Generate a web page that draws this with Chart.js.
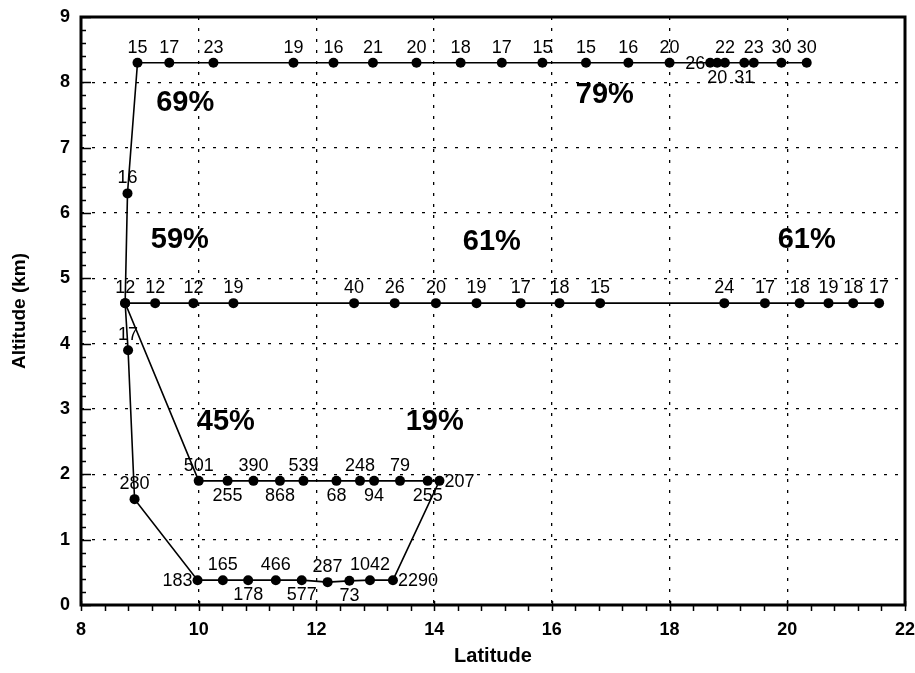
<!DOCTYPE html>
<html>
<head>
<meta charset="utf-8">
<script src="https://cdn.jsdelivr.net/npm/chart.js@4/dist/chart.umd.min.js"></script>
<style>
  html, body { margin: 0; padding: 0; background: #fff; }
  #wrap { width: 915px; height: 673px; }
</style>
</head>
<body>
<div id="wrap"><canvas id="chart" width="915" height="673"></canvas></div>
<script>
// flight track, in the order it is drawn
const lat = [
  20.33, 19.90, 19.43, 19.27, 18.94, 18.81, 18.69, 18.00, 17.30, 16.58,
  15.84, 15.15, 14.45, 13.70, 12.96, 12.29, 11.61, 10.25, 9.50, 8.96,
  8.79, 8.75, 8.80, 8.91,
  9.98, 10.41, 10.84, 11.31, 11.75, 12.19, 12.56, 12.91, 13.30,
  14.09, 13.89, 13.42, 12.98, 12.74, 12.34, 11.78, 11.38, 10.93, 10.49, 10.00,
  8.75,
  9.26, 9.91, 10.59, 12.64, 13.33, 14.03, 14.72, 15.47, 16.13, 16.82,
  18.93, 19.62, 20.21, 20.70, 21.12, 21.56
];
const alt = [
  8.30, 8.30, 8.30, 8.30, 8.30, 8.30, 8.30, 8.30, 8.30, 8.30,
  8.30, 8.30, 8.30, 8.30, 8.30, 8.30, 8.30, 8.30, 8.30, 8.30,
  6.30, 4.62, 3.90, 1.62,
  0.38, 0.38, 0.38, 0.38, 0.38, 0.35, 0.37, 0.38, 0.38,
  1.90, 1.90, 1.90, 1.90, 1.90, 1.90, 1.90, 1.90, 1.90, 1.90, 1.90,
  4.62,
  4.62, 4.62, 4.62, 4.62, 4.62, 4.62, 4.62, 4.62, 4.62, 4.62,
  4.62, 4.62, 4.62, 4.62, 4.62, 4.62
];
const counts = [
  '30', '30', '23', '31', '22', '20', '26', '20', '16', '15',
  '15', '17', '18', '20', '21', '16', '19', '23', '17', '15',
  '16', '12', '17', '280',
  '183', '165', '178', '466', '577', '287', '73', '1042', '2290',
  '207', '255', '79', '94', '248', '68', '539', '868', '390', '255', '501',
  '',
  '12', '12', '19', '40', '26', '20', '19', '17', '18', '15',
  '24', '17', '18', '19', '18', '17'
];
// where each count sits: a=above b=below l=left r=right
const countSide = [
  'a', 'a', 'a', 'b', 'a', 'b', 'l', 'a', 'a', 'a',
  'a', 'a', 'a', 'a', 'a', 'a', 'a', 'a', 'a', 'a',
  'a', 'a', 'a', 'a',
  'l', 'a', 'b', 'a', 'b', 'a', 'b', 'a', 'r',
  'r', 'b', 'a', 'b', 'a', 'b', 'a', 'b', 'a', 'b', 'a',
  '',
  'a', 'a', 'a', 'a', 'a', 'a', 'a', 'a', 'a', 'a',
  'a', 'a', 'a', 'a', 'a', 'a'
];

const pctText = ['69%', '79%', '59%', '61%', '61%', '45%', '19%'];
const pctLat = [9.77, 16.90, 9.68, 14.98, 20.33, 10.46, 14.01];
const pctAlt = [7.69, 7.81, 5.59, 5.56, 5.59, 2.80, 2.80];

const points = lat.map((x, i) => ({ x: x, y: alt[i] }));

const FONT = "'Liberation Sans', Arial, Helvetica, sans-serif";

// frame, minor ticks, point counts and the percentages
const decorations = {
  id: 'decorations',
  beforeDatasetsDraw(chart) {
    const { ctx, chartArea: a, scales: { x, y } } = chart;
    ctx.save();
    ctx.strokeStyle = '#000';
    ctx.lineWidth = 1.5;
    ctx.beginPath();
    // y ticks point inward
    for (let v = 0; v <= 9.001; v += 0.2) {
      const py = Math.round(y.getPixelForValue(v)) + 0.5;
      const major = Math.abs(v - Math.round(v)) < 0.01;
      ctx.moveTo(a.left, py);
      ctx.lineTo(a.left + (major ? 10 : 5), py);
    }
    // x ticks point down
    for (let v = 8; v <= 22.001; v += 0.4) {
      const px = Math.round(x.getPixelForValue(v)) + 0.5;
      const major = Math.abs(v / 2 - Math.round(v / 2)) < 0.01;
      ctx.moveTo(px, a.bottom + (major ? -4 : 0));
      ctx.lineTo(px, a.bottom + 6);
    }
    ctx.stroke();
    ctx.lineWidth = 3;
    ctx.strokeRect(a.left, a.top, a.right - a.left, a.bottom - a.top);
    ctx.restore();
  },
  afterDatasetsDraw(chart) {
    const { ctx, scales: { x, y } } = chart;
    const meta = chart.getDatasetMeta(0);
    ctx.save();
    ctx.fillStyle = '#000';
    ctx.font = '18px ' + FONT;
    meta.data.forEach((pt, i) => {
      const s = countSide[i];
      if (!s) return;
      if (s === 'a') {
        ctx.textAlign = 'center'; ctx.textBaseline = 'bottom';
        ctx.fillText(counts[i], pt.x, pt.y - 6);
      } else if (s === 'b') {
        ctx.textAlign = 'center'; ctx.textBaseline = 'top';
        ctx.fillText(counts[i], pt.x, pt.y + 6);
      } else if (s === 'l') {
        ctx.textAlign = 'right'; ctx.textBaseline = 'middle';
        ctx.fillText(counts[i], pt.x - 5, pt.y + 1);
      } else {
        ctx.textAlign = 'left'; ctx.textBaseline = 'middle';
        ctx.fillText(counts[i], pt.x + 5, pt.y + 1);
      }
    });
    ctx.font = 'bold 29px ' + FONT;
    ctx.textAlign = 'center';
    ctx.textBaseline = 'middle';
    pctText.forEach((t, i) => {
      ctx.fillText(t, x.getPixelForValue(pctLat[i]), y.getPixelForValue(pctAlt[i]));
    });
    ctx.restore();
  }
};

new Chart(document.getElementById('chart'), {
  type: 'scatter',
  data: {
    datasets: [{
      data: points,
      showLine: true,
      borderColor: '#000',
      borderWidth: 1.6,
      backgroundColor: '#000',
      pointRadius: 5,
      pointBackgroundColor: '#000',
      pointBorderWidth: 0,
      tension: 0
    }]
  },
  options: {
    responsive: false,
    animation: false,
    layout: { padding: { top: 17, right: 10, left: 0, bottom: 0 } },
    plugins: { legend: { display: false }, tooltip: { enabled: false } },
    scales: {
      x: {
        type: 'linear',
        min: 8, max: 22,
        afterFit(s) { s.height = 68; s.paddingLeft = 0; s.paddingRight = 0; },
        ticks: { stepSize: 2, color: '#000', padding: 14, font: { family: FONT, size: 18, weight: 'bold' } },
        grid: { color: '#000', lineWidth: 1.3, drawTicks: false },
        border: { display: false, dash: [3, 8] },
        title: { display: true, text: 'Latitude', color: '#000', padding: { top: 0, bottom: 5 },
                 font: { family: FONT, size: 20, weight: 'bold' } }
      },
      y: {
        type: 'linear',
        min: 0, max: 9,
        afterFit(s) { s.width = 81; s.paddingTop = 0; s.paddingBottom = 0; },
        ticks: { stepSize: 1, color: '#000', padding: 11, font: { family: FONT, size: 18, weight: 'bold' } },
        grid: { color: '#000', lineWidth: 1.3, drawTicks: false },
        border: { display: false, dash: [3, 8] },
        title: { display: true, text: 'Altitude (km)', color: '#000', padding: { top: 8, bottom: 0 },
                 font: { family: FONT, size: 19, weight: 'bold' } }
      }
    }
  },
  plugins: [decorations]
});
</script>
</body>
</html>
